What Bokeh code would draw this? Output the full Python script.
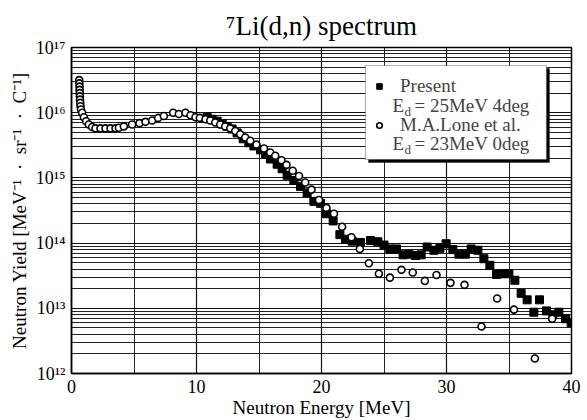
import numpy as np
from bokeh.plotting import figure
from bokeh.models import (FixedTicker, LogTicker, CustomJSTickFormatter, Label,
                          BoxAnnotation, Legend, LegendItem)
from bokeh.embed import file_html
from bokeh.resources import INLINE

# ---- data ----
present_energy = [10.85, 11.25, 11.65, 12.05, 12.45, 12.85, 13.25, 13.73, 14.19, 14.59,
                  15.12, 15.52, 15.92, 16.45, 16.85, 17.25, 17.79, 18.32, 18.85, 19.39,
                  19.92, 20.4, 20.93, 21.47, 21.92, 22.45, 23.12, 23.92, 24.51, 25.0,
                  25.47, 26.0, 26.53, 26.99, 27.52, 27.97, 28.45, 28.99, 29.47, 29.97,
                  30.51, 30.99, 31.52, 31.97, 32.51, 32.99, 33.47, 34.0, 34.45, 34.99,
                  35.47, 35.97, 36.45, 36.99, 37.44, 38.0, 38.51, 38.99, 39.52, 39.97]
present_log10 = [15.93, 15.90, 15.87, 15.83, 15.79, 15.75, 15.69, 15.60, 15.54, 15.49,
                 15.43, 15.36, 15.29, 15.21, 15.14, 15.04, 14.96, 14.87, 14.77, 14.64,
                 14.61, 14.45, 14.34, 14.13, 14.06, 14.03, 14.01, 14.04, 14.02, 13.97,
                 13.91, 13.91, 13.82, 13.83, 13.81, 13.82, 13.94, 13.89, 13.92, 13.99,
                 13.90, 13.83, 13.83, 13.91, 13.89, 13.76, 13.66, 13.52, 13.53, 13.53,
                 13.43, 13.23, 13.13, 12.94, 13.13, 12.96, 12.90, 12.94, 12.84, 12.78]

lone_energy = [0.62, 0.63, 0.64, 0.65, 0.66, 0.67, 0.68, 0.70, 0.72, 0.76,
               0.85, 0.99, 1.17, 1.39, 1.65, 1.92, 2.32, 2.72, 3.12, 3.52,
               3.79, 4.19, 4.85, 5.44, 5.92, 6.45, 6.93, 7.39, 8.13, 8.59,
               9.12, 9.52, 9.92, 10.27, 10.72, 11.1, 11.5, 11.9, 12.3, 12.7,
               13.1, 13.5, 13.9, 14.3, 14.8, 15.4, 15.9, 16.3, 16.8, 17.2,
               17.7, 18.2, 18.7, 19.2, 19.8, 20.4, 21.0, 21.65, 22.4, 23.07,
               23.79, 24.59, 25.47, 26.4, 27.3, 28.27, 29.2, 30.32, 31.44, 32.8,
               34.05, 35.4, 37.07, 38.45]
lone_log10 = [16.50, 16.45, 16.40, 16.35, 16.30, 16.25, 16.20, 16.15, 16.10, 16.05,
              16.00, 15.93, 15.87, 15.82, 15.78, 15.76, 15.76, 15.76, 15.76, 15.76,
              15.77, 15.79, 15.82, 15.84, 15.86, 15.88, 15.92, 15.95, 16.00, 15.98,
              16.00, 15.96, 15.93, 15.92, 15.90, 15.88, 15.85, 15.82, 15.79, 15.76,
              15.72, 15.67, 15.62, 15.57, 15.51, 15.45, 15.39, 15.34, 15.27, 15.20,
              15.11, 15.03, 14.93, 14.82, 14.66, 14.54, 14.45, 14.25, 14.09, 13.91,
              13.69, 13.53, 13.47, 13.59, 13.55, 13.42, 13.51, 13.39, 13.36, 12.72,
              13.15, 12.98, 12.23, 12.84]

x_major_ticks = [0, 10, 20, 30, 40]
x_minor_ticks = [5, 15, 25, 35]
y_decades = [1e12, 1e13, 1e14, 1e15, 1e16, 1e17]

present_yield = (10.0 ** np.array(present_log10)).tolist()
lone_yield = (10.0 ** np.array(lone_log10)).tolist()

SERIF = "Liberation Serif"

p = figure(width=587, height=420, y_axis_type="log",
           x_range=(0, 40), y_range=(y_decades[0], y_decades[-1]),
           output_backend="svg", toolbar_location=None,
           min_border_left=71, min_border_right=16,
           min_border_top=47, min_border_bottom=43,
           background_fill_color="white", border_fill_color="white")

p.title.text = "\u2077Li(d,n) spectrum"
p.title.text_font = SERIF
p.title.text_font_size = "27px"
p.title.text_font_style = "normal"
p.title.text_color = "black"
p.title.align = "center"
p.title.standoff = 13

# axes
p.xaxis.ticker = FixedTicker(ticks=x_major_ticks, minor_ticks=x_minor_ticks)
p.yaxis.ticker = LogTicker(num_minor_ticks=10)
p.yaxis.formatter = CustomJSTickFormatter(code="""
const s = {'0':'\u2070','1':'\u00b9','2':'\u00b2','3':'\u00b3','4':'\u2074','5':'\u2075',
           '6':'\u2076','7':'\u2077','8':'\u2078','9':'\u2079','-':'\u207b'};
const e = Math.round(Math.log10(tick));
return '10' + String(e).split('').map(c => s[c]).join('');
""")
for ax in (p.xaxis[0], p.yaxis[0]):
    ax.major_label_text_font = SERIF
    ax.major_label_text_font_size = "18px"
    ax.major_label_text_color = "black"
    ax.axis_label_text_font = SERIF
    ax.axis_label_text_font_size = "19px"
    ax.axis_label_text_font_style = "normal"
    ax.axis_label_text_color = "black"
    ax.major_tick_in = 0
    ax.major_tick_out = 0
    ax.minor_tick_in = 0
    ax.minor_tick_out = 0
    ax.axis_line_color = "black"
    ax.axis_line_width = 1.5
    ax.major_label_standoff = 6
p.xaxis.axis_label = "Neutron Energy [MeV]"
p.xaxis.axis_label_standoff = 1
p.yaxis.axis_label = ("Neutron Yield [MeV\u207b\u00b9\u2002\u00b7\u2002sr\u207b\u00b9"
                      "\u2002\u00b7\u2002C\u207b\u00b9]")
p.yaxis.axis_label_standoff = 3

# grids
p.xgrid.ticker = FixedTicker(ticks=x_major_ticks, minor_ticks=x_minor_ticks)
for g in (p.xgrid[0], p.ygrid[0]):
    g.grid_line_color = "#111111"
    g.grid_line_width = 1.2
    g.minor_grid_line_color = "#222222"
    g.minor_grid_line_width = 1.0

p.outline_line_color = "black"
p.outline_line_width = 1.5

# data
sq = p.scatter(present_energy, present_yield, marker="square", size=8,
               fill_color="black", line_color="black")
ci = p.scatter(lone_energy, lone_yield, marker="circle", size=7,
               fill_color="white", line_color="black", line_width=1.6)

# legend box (screen units, relative to frame)
shadow = BoxAnnotation(left=297, right=478, top=305, bottom=211,
                       left_units="screen", right_units="screen",
                       top_units="screen", bottom_units="screen",
                       fill_color="black", fill_alpha=1.0, line_color="black")
box = BoxAnnotation(left=294, right=475, top=308, bottom=214,
                    left_units="screen", right_units="screen",
                    top_units="screen", bottom_units="screen",
                    fill_color="white", fill_alpha=1.0, line_color="black", line_width=1.2)
p.add_layout(shadow)
p.add_layout(box)

legend = Legend(items=[LegendItem(label="Present", renderers=[sq]),
                       LegendItem(label="M.A.Lone et al.", renderers=[ci])],
                location=(301, 237), padding=0, margin=0, spacing=17,
                label_height=20, glyph_height=20, glyph_width=14, label_standoff=14,
                label_text_font=SERIF, label_text_font_size="19px",
                background_fill_alpha=0, border_line_alpha=0)
p.add_layout(legend)

for yc, txt in ((268, "= 25MeV 4deg"), (230, "= 23MeV 0deg")):
    p.add_layout(Label(x=321, y=yc, x_units="screen", y_units="screen", text="E",
                       text_font=SERIF, text_font_size="19px", text_baseline="middle"))
    p.add_layout(Label(x=333, y=yc - 6, x_units="screen", y_units="screen", text="d",
                       text_font=SERIF, text_font_size="13px", text_baseline="middle"))
    p.add_layout(Label(x=343, y=yc, x_units="screen", y_units="screen", text=txt,
                       text_font=SERIF, text_font_size="19px", text_baseline="middle"))

open("out.html", "w").write(file_html(p, INLINE))
